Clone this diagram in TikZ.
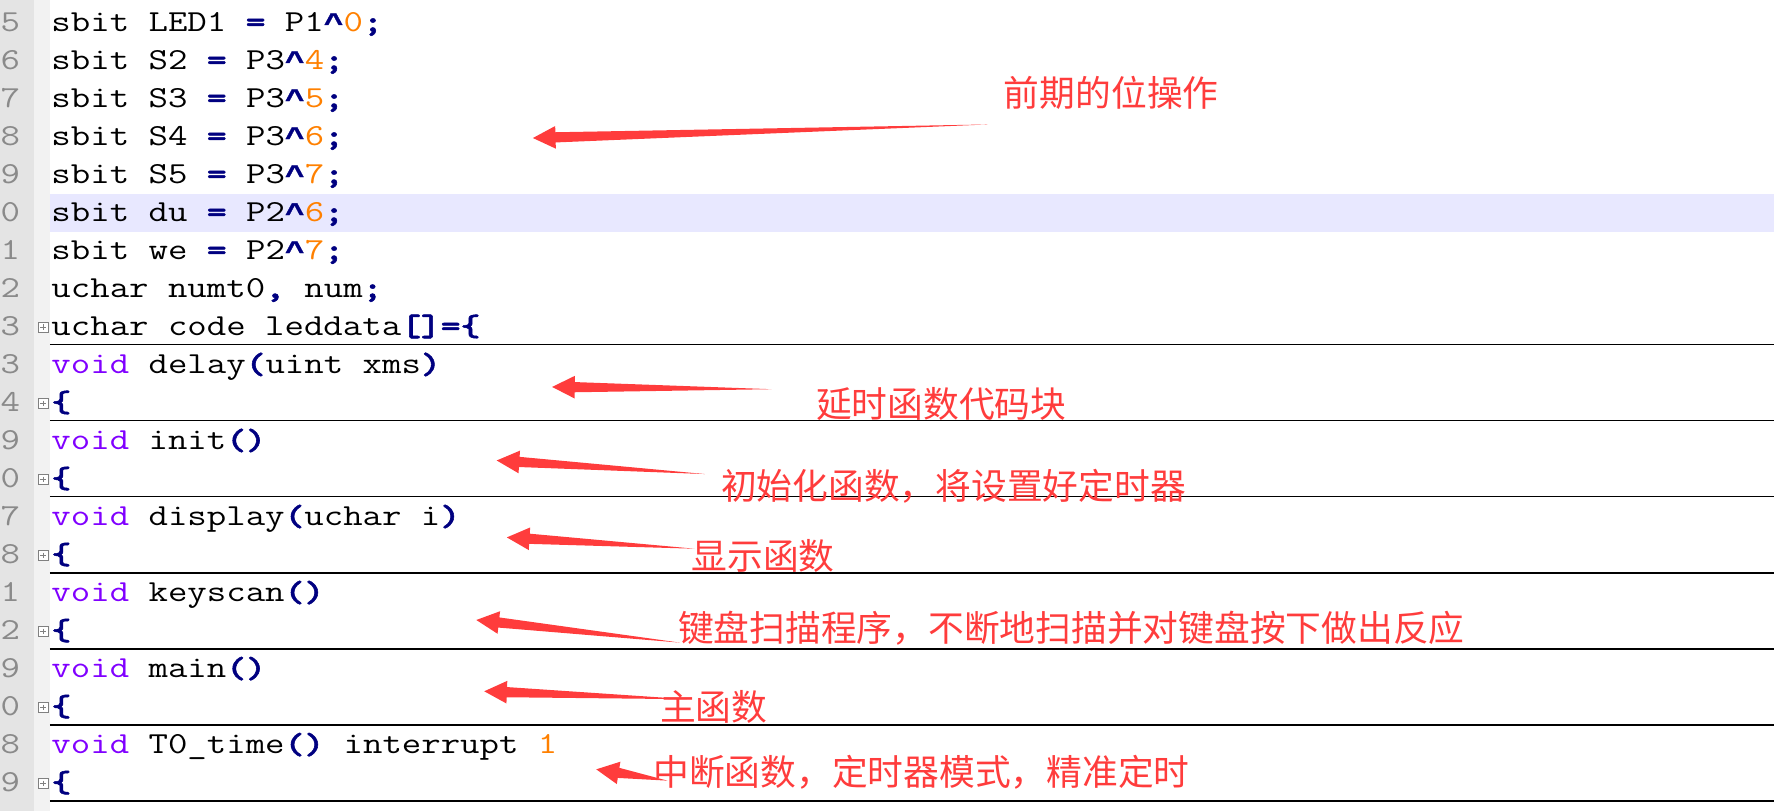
\documentclass[tikz,border=0pt]{standalone}
\usepackage{fontspec}
\newfontfamily\cjkfont{Noto Sans CJK SC}
\newfontfamily\opFont{lmmonolt10-bold.otf}[FakeBold=1.5]
\newfontfamily\caretFont{Liberation Mono}[FakeBold=1]
\usetikzlibrary{calc}
\definecolor{opBlue}{HTML}{000080}
\definecolor{numOrange}{HTML}{FF8000}
\definecolor{keyPurple}{HTML}{8000FF}
\definecolor{noteRed}{RGB}{255,60,60}
\definecolor{gutterGray}{HTML}{E4E4E4}
\definecolor{foldGray}{HTML}{F2F2F2}
\definecolor{lineHi}{HTML}{E8E8FF}
\definecolor{numGray}{HTML}{8A8A8A}
\newcommand{\codeOp}[1]{{\opFont\color{opBlue}#1}}
\newcommand{\codeCaret}[0]{{\caretFont\bfseries\fontsize{11.8pt}{16pt}\selectfont\color{opBlue}\textasciicircum}}
\newcommand{\codeNum}[1]{{\color{numOrange}#1}}
\newcommand{\codeKey}[1]{{\color{keyPurple}#1}}
\newcommand{\codeSize}[0]{\fontsize{13.5pt}{16pt}\selectfont}
\newcommand{\redArrow}[2]{%
  \fill[noteRed] (#1) -- ($(#1)!11.2pt!26.6:(#2)$) -- ($(#1)!10.25pt!12.7:(#2)$)
    -- (#2) -- ($(#1)!10.25pt!-12.7:(#2)$) -- ($(#1)!11.2pt!-26.6:(#2)$) -- cycle;}

\begin{document}
\begin{tikzpicture}[x=0.5pt, y=-0.5pt]
  \tikzset{code/.style={anchor=base west, inner sep=0pt, xscale=1.235, font=\ttfamily\codeSize},
           lineno/.style={anchor=base west, inner sep=0pt, xscale=1.235, font=\ttfamily\codeSize, text=numGray},
           note/.style={anchor=west, inner sep=0pt, text=noteRed, font=\cjkfont\fontsize{15.8pt}{18pt}\selectfont},
           fold/.style={draw=gray, fill=white, line width=0.4pt, minimum size=4.4pt, inner sep=0pt},
           rule/.style={line width=0.5pt}}
  \useasboundingbox (0,0) rectangle (1568,717);
  \clip (0,0) rectangle (1568,717);
  % editor margins
  \fill[gutterGray] (0,0) rectangle (30,717);
  \fill[foldGray] (30,0) rectangle (44,717);
  \fill[lineHi] (44,171.6) rectangle (1568,205);
  % line numbers
  \foreach \lnum [count=\k from 0] in {5,6,7,8,9,0,1,2,3,3,4,9,0,7,8,1,2,9,0,8,9}
    \node[lineno] (num\k) at (0,28+33.6*\k) {\lnum};
  % code lines
  \node[code] (code0) at (45,28) {sbit LED1 \codeOp{=} P1\codeCaret\codeNum{0}\codeOp{;}};
  \node[code] (code1) at (45,61.6) {sbit S2 \codeOp{=} P3\codeCaret\codeNum{4}\codeOp{;}};
  \node[code] (code2) at (45,95.2) {sbit S3 \codeOp{=} P3\codeCaret\codeNum{5}\codeOp{;}};
  \node[code] (code3) at (45,128.8) {sbit S4 \codeOp{=} P3\codeCaret\codeNum{6}\codeOp{;}};
  \node[code] (code4) at (45,162.4) {sbit S5 \codeOp{=} P3\codeCaret\codeNum{7}\codeOp{;}};
  \node[code] (code5) at (45,196) {sbit du \codeOp{=} P2\codeCaret\codeNum{6}\codeOp{;}};
  \node[code] (code6) at (45,229.6) {sbit we \codeOp{=} P2\codeCaret\codeNum{7}\codeOp{;}};
  \node[code] (code7) at (45,263.2) {uchar numt0\codeOp{,} num\codeOp{;}};
  \node[code] (code8) at (45,296.8) {uchar code leddata\codeOp{[]=\{}};
  \node[code] (code9) at (45,330.4) {\codeKey{void} delay\codeOp{(}uint xms\codeOp{)}};
  \node[code] (code10) at (45,364) {\codeOp{\{}};
  \node[code] (code11) at (45,397.6) {\codeKey{void} init\codeOp{()}};
  \node[code] (code12) at (45,431.2) {\codeOp{\{}};
  \node[code] (code13) at (45,464.8) {\codeKey{void} display\codeOp{(}uchar i\codeOp{)}};
  \node[code] (code14) at (45,498.4) {\codeOp{\{}};
  \node[code] (code15) at (45,532) {\codeKey{void} keyscan\codeOp{()}};
  \node[code] (code16) at (45,565.6) {\codeOp{\{}};
  \node[code] (code17) at (45,599.2) {\codeKey{void} main\codeOp{()}};
  \node[code] (code18) at (45,632.8) {\codeOp{\{}};
  \node[code] (code19) at (45,666.4) {\codeKey{void} T0\_time\codeOp{()} interrupt \codeNum{1}};
  \node[code] (code20) at (45,700) {\codeOp{\{}};
  % fold boxes and block rules
  \foreach \k in {8,10,12,14,16,18,20} {
    \node[fold] (fold\k) at (38,28+33.6*\k-7.5) {};
    \draw[gray, line width=0.4pt] ($(fold\k)+(-2.5,0)$) -- ($(fold\k)+(2.5,0)$)
      ($(fold\k)+(0,-2.5)$) -- ($(fold\k)+(0,2.5)$);
    \draw[rule] (44,28+33.6*\k+8) -- (1568,28+33.6*\k+8);
  }
  % notes
  \node[note] (note1) at (887,82) {前期的位操作};
  \node[note] (note2) at (721,357) {延时函数代码块};
  \node[note] (note3) at (637,430) {初始化函数，将设置好定时器};
  \node[note] (note4) at (611,491) {显示函数};
  \node[note] (note5) at (599,555) {键盘扫描程序，不断地扫描并对键盘按下做出反应};
  \node[note] (note6) at (583,625) {主函数};
  \node[note] (note7) at (577,683) {中断函数，定时器模式，精准定时};
  % arrows
  \coordinate (tip1) at (471,122);  \coordinate (tail1) at (873,110);
  \coordinate (tip2) at (488,342);  \coordinate (tail2) at (682,344);
  \coordinate (tip3) at (439,407);  \coordinate (tail3) at (623,419);
  \coordinate (tip4) at (448,475);  \coordinate (tail4) at (614,485);
  \coordinate (tip5) at (421,548);  \coordinate (tail5) at (601,568);
  \coordinate (tip6) at (428,611);  \coordinate (tail6) at (607,618);
  \coordinate (tip7) at (527,680);  \coordinate (tail7) at (590,690);
  \foreach \i in {1,...,7} {
    \redArrow{tip\i}{tail\i}
  }
\end{tikzpicture}
\end{document}
